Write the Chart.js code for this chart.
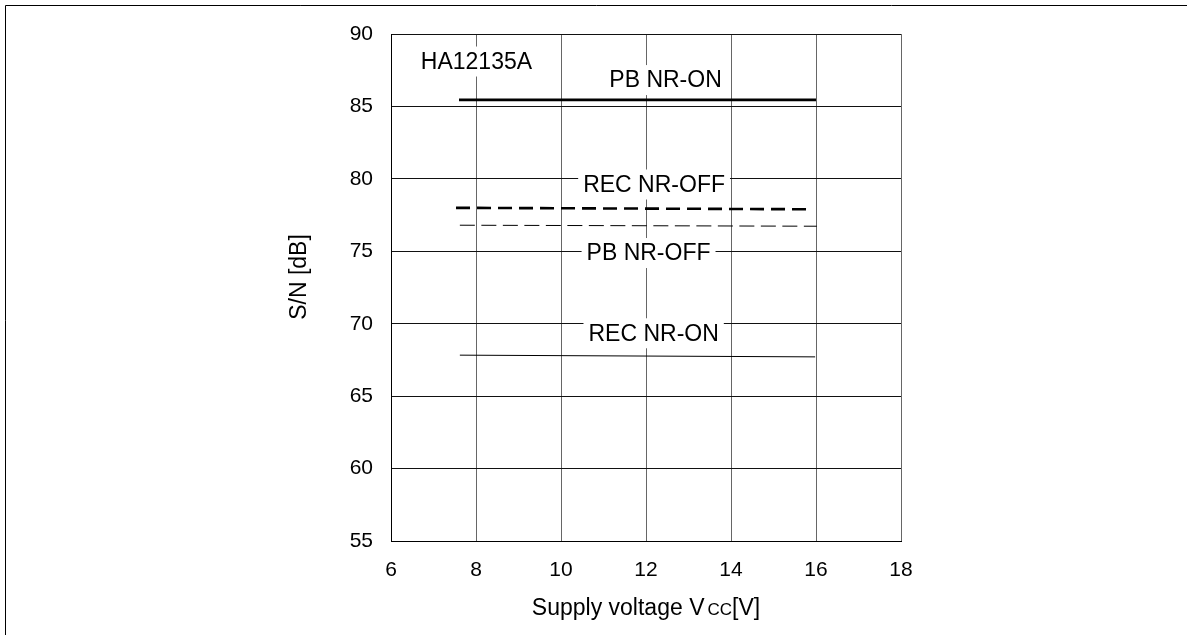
<!DOCTYPE html>
<html><head><meta charset="utf-8">
<script src="https://cdn.jsdelivr.net/npm/chart.js@4"></script>
<style>html,body{margin:0;padding:0;background:#fff;}#wrap{width:1187px;height:635px;position:relative;}canvas{display:block;}</style>
</head><body><div id="wrap"><canvas id="c" width="1187" height="635" style="width:1187px;height:635px;"></canvas></div>
<script>
// ---- data ----
const xTicks = [6, 8, 10, 12, 14, 16, 18];
const yTicks = [55, 60, 65, 70, 75, 80, 85, 90];
const seriesNames = ['PB NR-ON', 'REC NR-OFF', 'PB NR-OFF', 'REC NR-ON'];
const pbNrOnX = [7.6, 16];    const pbNrOnY = [85.45, 85.45];
const recNrOffX = [7.53, 15.93]; const recNrOffY = [78.0, 77.9];
const pbNrOffX = [7.62, 16.02];  const pbNrOffY = [76.8, 76.73];
const recNrOnX = [7.62, 15.98];  const recNrOnY = [67.83, 67.71];
const deviceName = 'HA12135A';
const xTitleMain = 'Supply voltage V';
const xTitleSub = 'CC';
const xTitleUnit = '[V]';
const yTitle = 'S/N [dB]';

// label anchor points (data coords)
const labelAnchors = [
  {text: deviceName, x: 8.01, y: 88.1},
  {text: seriesNames[0], x: 12.46, y: 86.82},
  {text: seriesNames[1], x: 12.19, y: 79.61},
  {text: seriesNames[2], x: 12.06, y: 74.88},
  {text: seriesNames[3], x: 12.18, y: 69.34}
];

const FONT = '"Liberation Sans", Arial, sans-serif';
const pts = (xs, ys) => xs.map((x, i) => ({x, y: ys[i]}));

const annot = {
  id: 'annot',
  afterDatasetsDraw(chart) {
    const ctx = chart.ctx, xs = chart.scales.x, ys = chart.scales.y;
    ctx.save();
    ctx.font = '23px ' + FONT;
    ctx.textAlign = 'center';
    ctx.textBaseline = 'middle';
    labelAnchors.forEach(l => {
      const px = xs.getPixelForValue(l.x), py = ys.getPixelForValue(l.y);
      const w = ctx.measureText(l.text).width;
      ctx.fillStyle = '#fff';
      ctx.fillRect(px - w / 2 - 5, py - 15, w + 10, 30);
      ctx.fillStyle = '#000';
      ctx.fillText(l.text, px, py + 1);
    });
    ctx.restore();
  },
  afterDraw(chart) {
    const ctx = chart.ctx, a = chart.chartArea;
    ctx.save();
    // frame
    ctx.strokeStyle = '#000'; ctx.lineWidth = 1;
    ctx.beginPath(); ctx.moveTo(5.5, 635); ctx.lineTo(5.5, 5.5); ctx.lineTo(1187, 5.5); ctx.stroke();
    // x title
    ctx.fillStyle = '#000';
    ctx.textBaseline = 'alphabetic';
    ctx.textAlign = 'left';
    const big = '23px ' + FONT, small = '17px ' + FONT;
    ctx.font = big; const w1 = ctx.measureText(xTitleMain).width; const w3 = ctx.measureText(xTitleUnit).width;
    ctx.font = small; const w2 = ctx.measureText(xTitleSub).width;
    const gap = 3;
    const total = w1 + gap + w2 + w3;
    let x0 = (a.left + a.right) / 2 - total / 2;
    const base = 615;
    ctx.font = big; ctx.fillText(xTitleMain, x0, base);
    ctx.font = small; ctx.fillText(xTitleSub, x0 + w1 + gap, base);
    ctx.font = big; ctx.fillText(xTitleUnit, x0 + w1 + gap + w2, base);
    // y title
    ctx.translate(300, 277);
    ctx.rotate(-Math.PI / 2);
    ctx.textAlign = 'center'; ctx.textBaseline = 'middle';
    ctx.font = '23px ' + FONT;
    ctx.fillText(yTitle, 0, 0);
    ctx.restore();
  }
};

new Chart(document.getElementById('c'), {
  type: 'line',
  data: {
    datasets: [
      {label: seriesNames[0], data: pts(pbNrOnX, pbNrOnY), borderColor: '#000', borderWidth: 2.8, pointRadius: 0},
      {label: seriesNames[1], data: pts(recNrOffX, recNrOffY), borderColor: '#000', borderWidth: 2.6, borderDash: [14, 7], pointRadius: 0},
      {label: seriesNames[2], data: pts(pbNrOffX, pbNrOffY), borderColor: '#000', borderWidth: 1, borderDash: [15, 6.5], pointRadius: 0},
      {label: seriesNames[3], data: pts(recNrOnX, recNrOnY), borderColor: '#000', borderWidth: 1, pointRadius: 0}
    ]
  },
  options: {
    responsive: false,
    animation: false,
    devicePixelRatio: 1,
    layout: {padding: {left: 311, right: 286, top: 34, bottom: 34}},
    plugins: {legend: {display: false}, tooltip: {enabled: false}},
    scales: {
      x: {
        type: 'linear', min: 6, max: 18,
        afterBuildTicks: s => { s.ticks = xTicks.map(v => ({value: v})); },
        afterFit: s => { s.height = 60; },
        grid: {color: '#666', lineWidth: 1, drawTicks: false},
        border: {color: '#000', width: 1},
        ticks: {color: '#000', font: {family: FONT, size: 21}, padding: 17, maxRotation: 0}
      },
      y: {
        type: 'linear', min: 55, max: 90,
        afterBuildTicks: s => { s.ticks = yTicks.map(v => ({value: v})); },
        afterFit: s => { s.width = 80; },
        grid: {color: '#111', lineWidth: 1, drawTicks: false},
        border: {color: '#000', width: 1},
        ticks: {color: '#000', font: {family: FONT, size: 21}, padding: 18}
      }
    }
  },
  plugins: [annot]
});
</script>
</body></html>
